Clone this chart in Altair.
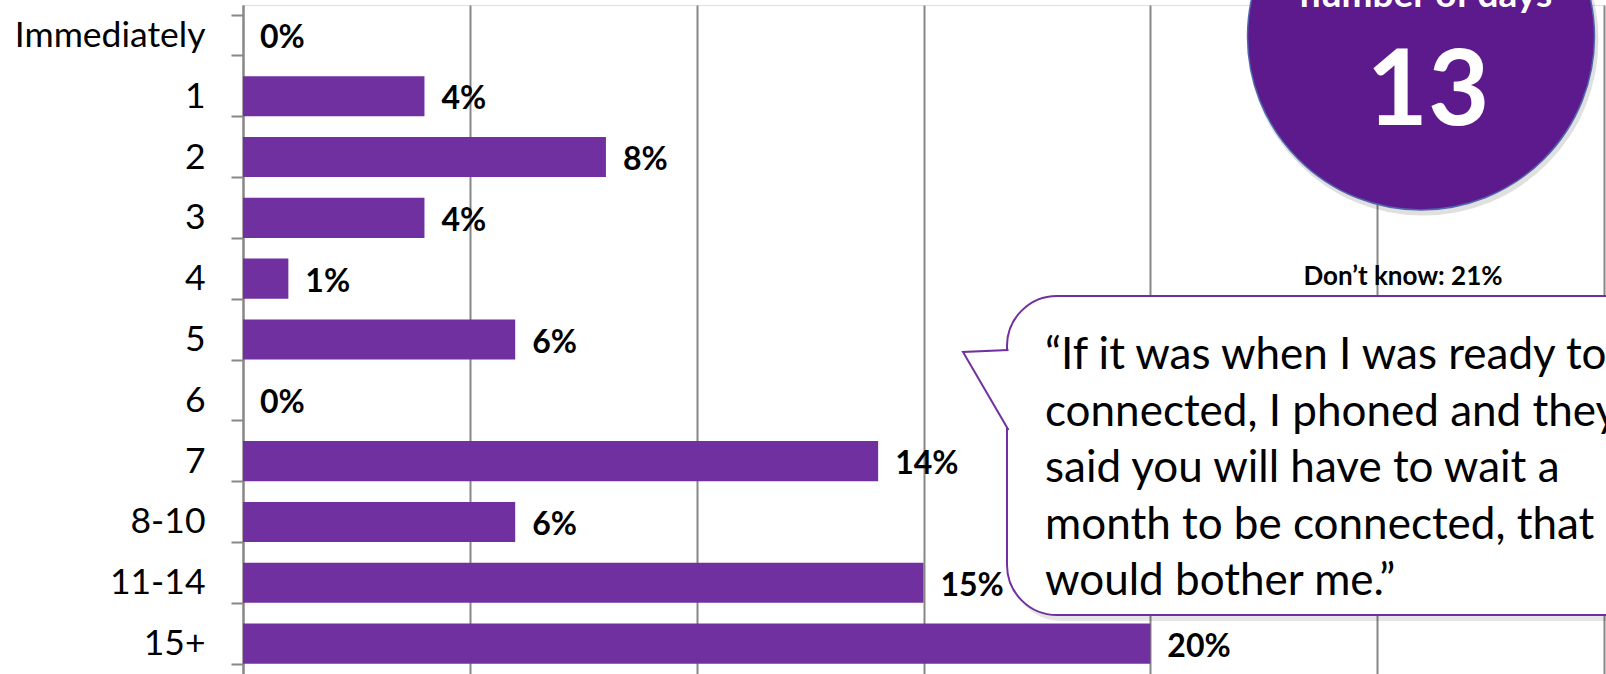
import altair as alt
import pandas as pd

# ---- data ----
categories = ["Immediately", "1", "2", "3", "4", "5", "6", "7", "8-10", "11-14", "15+"]
shares = [0, 4, 8, 4, 1, 6, 0, 14, 6, 15, 20]          # percent of respondents
x_ticks = [0, 5, 10, 15, 20, 25, 30]                     # vertical gridlines (percent)

avg_caption = ["number of days"]
avg_value = ["13"]
dont_know = ["Don’t know: 21%"]
quote_lines = [
    "“If it was when I was ready to be",
    "connected, I phoned and they",
    "said you will have to wait a",
    "month to be connected,  that",
    "would bother me.”",
]

PURPLE = "#7030A0"
CIRCLE = "#5C1A8C"
GRID = "#878787"
FONT = "Lato"

df = pd.DataFrame({"cat": categories, "share": shares})
df["label"] = [f"{v}%" for v in shares]

x_enc = alt.X(
    "share:Q",
    scale=alt.Scale(domain=[0, 30], nice=False, zero=True),
    axis=alt.Axis(values=x_ticks, labels=False, ticks=False, domain=False,
                  grid=True, gridColor=GRID, gridWidth=2, title=None),
)
y_enc = alt.Y(
    "cat:N",
    sort=categories,
    scale=alt.Scale(domain=categories, paddingInner=0.34, paddingOuter=0.17),
    axis=alt.Axis(title=None, tickBand="extent", tickSize=12, tickColor=GRID, tickWidth=2,
                  domainColor=GRID, domainWidth=2, labelFont=FONT, labelFontSize=35.5,
                  labelColor="black", labelPadding=26, labelLimit=0, grid=False),
)

bars = alt.Chart(df).mark_bar(color=PURPLE).encode(x=x_enc, y=y_enc)
labels = alt.Chart(df).mark_text(
    align="left", baseline="middle", dx=17, dy=3, font=FONT, fontSize=32,
    fontWeight="bold", color="black"
).encode(x="share:Q", y=alt.Y("cat:N", sort=categories), text="label:N")

one = pd.DataFrame({"k": [0]})

# ---- average-days circle (top right) ----
D = 347.0
circ_size = D * D   # vega circle symbol: radius = sqrt(size)/2
circle_shadow = alt.Chart(one).mark_point(
    shape="circle", filled=True, fill="#000000", opacity=0.12, strokeWidth=0, size=(D + 4) ** 2
).encode(x=alt.value(1180), y=alt.value(35))
circle = alt.Chart(one).mark_point(
    shape="circle", filled=True, fill=CIRCLE, stroke="#4F65AE", strokeWidth=1.5, opacity=1, size=circ_size
).encode(x=alt.value(1178), y=alt.value(31.5))
caption = alt.Chart(pd.DataFrame({"t": avg_caption})).mark_text(
    align="center", baseline="alphabetic", font=FONT, fontSize=37, fontWeight="bold", color="white"
).encode(x=alt.value(1183), y=alt.value(2), text="t:N")
big = alt.Chart(pd.DataFrame({"t": avg_value})).mark_text(
    align="center", baseline="alphabetic", font=FONT, fontSize=106, fontWeight="bold", color="white"
).encode(x=alt.value(1185), y=alt.value(120), text="t:N")

dk = alt.Chart(pd.DataFrame({"t": dont_know})).mark_text(
    align="center", baseline="alphabetic", font=FONT, fontSize=26, fontWeight="bold", color="black"
).encode(x=alt.value(1160), y=alt.value(280), text="t:N")

# ---- speech bubble ----
bubble_shadow = alt.Chart(one).mark_rect(
    cornerRadius=50, fill="#000000", opacity=0.10
).encode(x=alt.value(768), x2=alt.value(1500), y=alt.value(296), y2=alt.value(616))
bubble = alt.Chart(one).mark_rect(
    cornerRadius=50, fill="white", stroke=PURPLE, strokeWidth=2, opacity=1
).encode(x=alt.value(764), x2=alt.value(1500), y=alt.value(291), y2=alt.value(610))
tail = alt.Chart(one).mark_point(
    shape="M1.5,0L-44,2L1.5,80", filled=True, fill="white", stroke=PURPLE, strokeWidth=2,
    opacity=1, size=4
).encode(x=alt.value(764), y=alt.value(345))
quote = alt.Chart(pd.DataFrame({"k": [0]})).mark_text(
    align="left", baseline="alphabetic", font=FONT, fontSize=44, color="black", lineHeight=56.5
).encode(x=alt.value(802), y=alt.value(364), text=alt.value(quote_lines))

chart = alt.layer(
    bars, labels, circle_shadow, circle, caption, big, dk,
    bubble_shadow, bubble, tail, quote
).properties(
    width=1361, height=669,
    padding={"left": 243, "top": 5, "right": 2, "bottom": 0},
    autosize=alt.AutoSizeParams(type="none"),
).configure_view(stroke=None).configure(background="white")

chart.save("out.html", embed_options={"renderer": "svg", "actions": False})
